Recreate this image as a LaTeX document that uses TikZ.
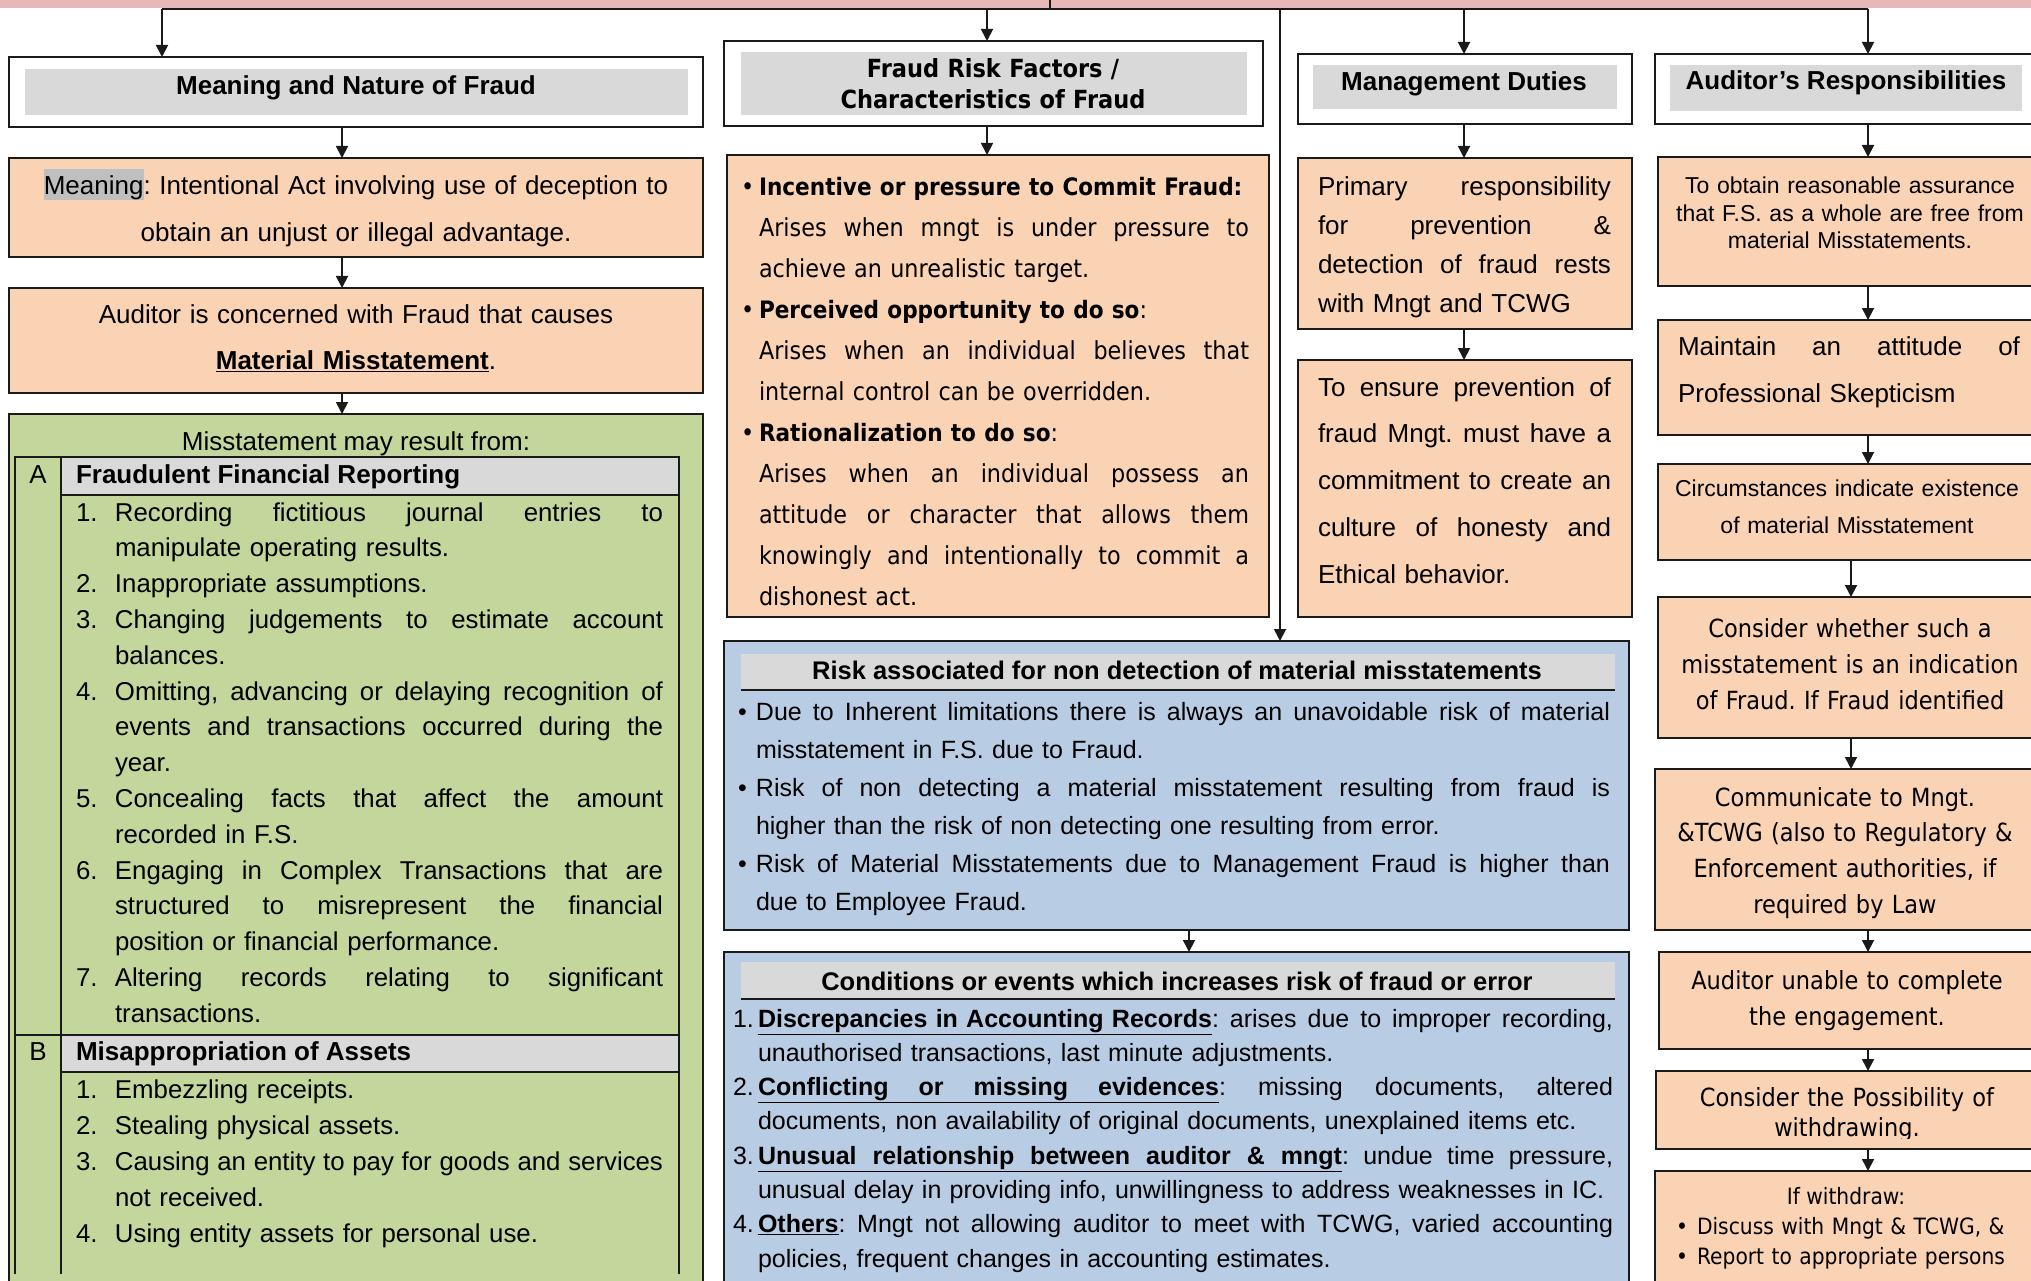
\documentclass[tikz,border=0pt]{standalone}
\usepackage{fontspec}
\setmainfont{Liberation Sans}
\newfontfamily\tah[FakeStretch=0.9]{DejaVu Sans}
\usetikzlibrary{arrows.meta}
\definecolor{pinkb}{HTML}{E6B8B7}
\definecolor{org}{HTML}{FAD3B4}
\definecolor{grn}{HTML}{C3D69B}
\definecolor{blu}{HTML}{B8CCE4}
\definecolor{gry}{HTML}{D9D9D9}
\definecolor{hlg}{HTML}{BFBFBF}
\definecolor{ink}{HTML}{1A1A1A}
\newlength\hind
\newcommand\Nm[1]{\makebox[\hind][l]{#1}}
\newcommand\Jf[1]{{\spaceskip=0pt\xspaceskip=0pt\makebox[\dimexpr\linewidth-\hind\relax][s]{#1}}}
\newcommand\Jl[1]{{\spaceskip=0pt\xspaceskip=0pt\makebox[\linewidth][s]{#1}}}
\newcommand\Jw[2]{{\spaceskip=0pt\xspaceskip=0pt\makebox[#1][s]{#2}}}
\newcommand\UL[2]{\underline{\Jw{#1}{\textbf{#2}}}}
\newcommand\hlt[1]{{\setlength\fboxsep{0pt}\colorbox{hlg}{\rule{0pt}{26pt}#1}}}
\newcommand\Bh[1]{{\fontsize{24}{41}\selectfont\textbf{#1}}}
\frenchspacing
\tikzset{
  box/.style={draw=ink, line width=2pt, anchor=north west, inner sep=0pt, outer sep=0pt},
  hdr/.style={fill=gry, draw=none, anchor=north west, inner sep=0pt, outer sep=0pt},
  arr/.style={draw=ink, line width=1.8pt, -{Triangle[length=12pt,width=12pt]}},
  ln/.style={draw=ink, line width=2pt},
  tx/.style={inner sep=0pt, outer sep=0pt, text=black},
  lft/.style={tx, anchor=base west, align=left},
  ctr/.style={tx, anchor=base, align=center},
  fA/.style={font=\fontsize{26}{47}\selectfont},
  fB/.style={font=\bfseries\fontsize{26}{30}\selectfont},
}
\begin{document}
\frenchspacing
\begin{tikzpicture}[x=1pt,y=-1pt]
\useasboundingbox (0,0) rectangle (2031,1281);
\clip (0,0) rectangle (2031,1281);
% ---------- top band and distribution line
\node[fill=pinkb, anchor=north west, minimum width=2031pt, minimum height=8pt, inner sep=0pt, outer sep=0pt] (band) at (0,0) {};
\coordinate (hl0) at (162,9);
\coordinate (c2) at (987,9);
\coordinate (stem) at (1050,9);
\coordinate (c5) at (1280,9);
\coordinate (c3) at (1464,9);
\coordinate (hr0) at (1868,9);
\coordinate (x1) at (342,0);
\coordinate (xb) at (1189,0);
\coordinate (x4b) at (1851,0);

% ---------- column 1
\node[box, fill=white, minimum width=694pt, minimum height=70pt] (b1) at (9,57) {};
\node[hdr, minimum width=663pt, minimum height=46pt] (g1) at (25,69) {};
\node[ctr, fB] (t1) at (356,95) {Meaning and Nature of Fraud};

\node[box, fill=org, minimum width=694pt, minimum height=99pt] (b2) at (9,158) {};
\node[ctr, fA, text width=680pt] (t2) at (356,195) {\hlt{Meaning}: Intentional Act involving use of deception to\\ obtain an unjust or illegal advantage.};

\node[box, fill=org, minimum width=694pt, minimum height=105pt] (b3) at (9,288) {};
\node[ctr, fA, text width=680pt] (t3) at (356,323) {Auditor is concerned with Fraud that causes\\ \underline{\textbf{Material Misstatement}}.};

\node[box, fill=grn, minimum width=694pt, minimum height=890pt] (b4) at (9,414) {};
\node[ctr, font=\fontsize{26}{30}\selectfont] (t4) at (356,450) {Misstatement may result from:};
\fill[gry] (61,457) rectangle (679,495);
\fill[gry] (61,1035) rectangle (679,1072);
\draw[ln] (15,1274) -- (15,457) -- (679,457) -- (679,1274);
\draw[ln] (61,457) -- (61,1274);
\draw[ln] (61,495) -- (679,495);
\draw[ln] (15,1035) -- (679,1035);
\draw[ln] (61,1072) -- (679,1072);
\node[ctr, font=\fontsize{26}{30}\selectfont] (tA) at (38,483) {A};
\node[lft, fB] (hA) at (76,483) {Fraudulent Financial Reporting};
\node[lft, text width=587pt, font=\fontsize{25.8}{35.8}\selectfont] (lA) at (76,521) {\setlength\hind{39pt}%
\Nm{1.}\Jf{Recording fictitious journal entries to}\\
\Nm{}manipulate operating results.\\
\Nm{2.}Inappropriate assumptions.\\
\Nm{3.}\Jf{Changing judgements to estimate account}\\
\Nm{}balances.\\
\Nm{4.}\Jf{Omitting, advancing or delaying recognition of}\\
\Nm{}\Jf{events and transactions occurred during the}\\
\Nm{}year.\\
\Nm{5.}\Jf{Concealing facts that affect the amount}\\
\Nm{}recorded in F.S.\\
\Nm{6.}\Jf{Engaging in Complex Transactions that are}\\
\Nm{}\Jf{structured to misrepresent the financial}\\
\Nm{}position or financial performance.\\
\Nm{7.}\Jf{Altering records relating to significant}\\
\Nm{}transactions.};
\node[ctr, font=\fontsize{26}{30}\selectfont] (tB) at (38,1060) {B};
\node[lft, fB] (hB) at (76,1060) {Misappropriation of Assets};
\node[lft, text width=587pt, font=\fontsize{25.8}{36}\selectfont] (lB) at (76,1098) {\setlength\hind{39pt}%
\Nm{1.}Embezzling receipts.\\
\Nm{2.}Stealing physical assets.\\
\Nm{3.}\Jf{Causing an entity to pay for goods and services}\\
\Nm{}not received.\\
\Nm{4.}Using entity assets for personal use.};

% ---------- column 2
\node[box, fill=white, minimum width=539pt, minimum height=85pt] (b5) at (724,41) {};
\node[hdr, minimum width=506pt, minimum height=63pt] (g5) at (741,52) {};
\node[ctr, text width=500pt, font=\tah\bfseries\fontsize{25}{31}\selectfont] (t5) at (993,78) {Fraud Risk Factors /\\ Characteristics of Fraud};

\node[box, fill=org, minimum width=542pt, minimum height=462pt] (b6) at (727,155) {};
\node[lft, text width=508pt, font=\tah\fontsize{24.8}{41}\selectfont] (t6) at (741,196) {\setlength\hind{18pt}%
\Nm{•}\Bh{Incentive or pressure to Commit Fraud:}\\
\Nm{}\Jf{Arises when mngt is under pressure to}\\
\Nm{}achieve an unrealistic target.\\
\Nm{•}\Bh{Perceived opportunity to do so}:\\
\Nm{}\Jf{Arises when an individual believes that}\\
\Nm{}internal control can be overridden.\\
\Nm{•}\Bh{Rationalization to do so}:\\
\Nm{}\Jf{Arises when an individual possess an}\\
\Nm{}\Jf{attitude or character that allows them}\\
\Nm{}\Jf{knowingly and intentionally to commit a}\\
\Nm{}dishonest act.};

\node[box, fill=blu, minimum width=905pt, minimum height=289pt] (b7) at (724,641) {};
\node[hdr, minimum width=874pt, minimum height=36pt] (g7) at (741,654) {};
\draw[ln] (g7.south west) -- (g7.south east);
\node[ctr, font=\bfseries\fontsize{25.5}{30}\selectfont] (t7h) at (1177,679) {Risk associated for non detection of material misstatements};
\node[lft, text width=872pt, font=\fontsize{25}{38}\selectfont] (t7) at (738,720) {\setlength\hind{18pt}%
\Nm{•}\Jf{Due to Inherent limitations there is always an unavoidable risk of material}\\
\Nm{}misstatement in F.S. due to Fraud.\\
\Nm{•}\Jf{Risk of non detecting a material misstatement resulting from fraud is}\\
\Nm{}higher than the risk of non detecting one resulting from error.\\
\Nm{•}\Jf{Risk of Material Misstatements due to Management Fraud is higher than}\\
\Nm{}due to Employee Fraud.};

\node[box, fill=blu, minimum width=905pt, minimum height=340pt] (b8) at (724,952) {};
\node[hdr, minimum width=874pt, minimum height=37pt] (g8) at (741,962) {};
\draw[ln] (g8.south west) -- (g8.south east);
\node[ctr, font=\bfseries\fontsize{25.5}{30}\selectfont] (t8h) at (1177,990) {Conditions or events which increases risk of fraud or error};
\node[lft, text width=880pt, font=\fontsize{25}{34.3}\selectfont] (t8) at (733,1027) {\setlength\hind{25pt}%
\Nm{1.}\Jf{\UL{454pt}{Discrepancies in Accounting Records}: arises due to improper recording,}\\
\Nm{}unauthorised transactions, last minute adjustments.\\
\Nm{2.}\UL{461pt}{Conflicting or missing evidences}\Jw{\dimexpr\linewidth-\hind-461pt\relax}{: missing documents, altered}\\
\Nm{}documents, non availability of original documents, unexplained items etc.\\
\Nm{3.}\Jf{\UL{584pt}{Unusual relationship between auditor \& mngt}: undue time pressure,}\\
\Nm{}unusual delay in providing info, unwillingness to address weaknesses in IC.\\
\Nm{4.}\Jf{\underline{\textbf{Others}}: Mngt not allowing auditor to meet with TCWG, varied accounting}\\
\Nm{}policies, frequent changes in accounting estimates.};

% ---------- column 3
\node[box, fill=white, minimum width=334pt, minimum height=70pt] (b9) at (1298,54) {};
\node[hdr, minimum width=304pt, minimum height=44pt] (g9) at (1313,65) {};
\node[ctr, fB] (t9) at (1464,91) {Management Duties};

\node[box, fill=org, minimum width=334pt, minimum height=171pt] (b10) at (1298,158) {};
\node[lft, text width=293pt, font=\fontsize{26}{38.7}\selectfont] (t10) at (1318,196) {%
\Jl{Primary responsibility}\\
\Jl{for prevention \&}\\
\Jl{detection of fraud rests}\\
with Mngt and TCWG};

\node[box, fill=org, minimum width=334pt, minimum height=257pt] (b11) at (1298,360) {};
\node[lft, text width=293pt, font=\fontsize{26}{46.8}\selectfont] (t11) at (1318,396) {%
\Jl{To ensure prevention of}\\
\Jl{fraud Mngt. must have a}\\
\Jl{commitment to create an}\\
\Jl{culture of honesty and}\\
Ethical behavior.};

% ---------- column 4
\node[box, fill=white, minimum width=400pt, minimum height=70pt] (b12) at (1655,54) {};
\node[hdr, minimum width=352pt, minimum height=46pt] (g12) at (1670,65) {};
\node[ctr, fB] (t12) at (1846,90) {Auditor’s Responsibilities};

\node[box, fill=org, minimum width=400pt, minimum height=129pt] (b13) at (1658,157) {};
\node[ctr, text width=370pt, font=\fontsize{23}{27.5}\selectfont] (t13) at (1850,194) {To obtain reasonable assurance\\ that F.S. as a whole are free from\\ material Misstatements.};

\node[box, fill=org, minimum width=400pt, minimum height=115pt] (b14) at (1658,320) {};
\node[lft, text width=342pt, font=\fontsize{26}{47}\selectfont] (t14) at (1678,355) {\Jl{Maintain an attitude of}\\ Professional Skepticism};

\node[box, fill=org, minimum width=400pt, minimum height=96pt] (b15) at (1658,464) {};
\node[ctr, text width=370pt, font=\fontsize{23}{37}\selectfont] (t15) at (1847,496) {Circumstances indicate existence\\ of material Misstatement};

\node[box, fill=org, minimum width=400pt, minimum height=141pt] (b16) at (1658,597) {};
\node[ctr, text width=370pt, font=\tah\fontsize{25}{36}\selectfont] (t16) at (1850,637) {Consider whether such a\\ misstatement is an indication\\ of Fraud. If Fraud identified};

\node[box, fill=org, minimum width=400pt, minimum height=161pt] (b17) at (1655,769) {};
\node[ctr, text width=370pt, font=\tah\fontsize{25}{35.7}\selectfont] (t17) at (1845,806) {Communicate to Mngt.\\ \&TCWG (also to Regulatory \&\\ Enforcement authorities, if\\ required by Law};

\node[box, fill=org, minimum width=400pt, minimum height=97pt] (b18) at (1659,952) {};
\node[ctr, text width=370pt, font=\tah\fontsize{25}{36}\selectfont] (t18) at (1847,989) {Auditor unable to complete\\ the engagement.};

\node[box, fill=org, minimum width=400pt, minimum height=78pt] (b19) at (1656,1071) {};
\begin{scope}
\clip (1656,1071) rectangle (2040,1138);
\node[ctr, text width=370pt, font=\tah\fontsize{25}{30}\selectfont] (t19) at (1847,1106) {Consider the Possibility of\\ withdrawing.};
\end{scope}

\node[box, fill=org, minimum width=400pt, minimum height=130pt] (b20) at (1655,1171) {};
\node[ctr, font=\tah\fontsize{22.5}{29}\selectfont] (t20a) at (1846,1204) {If withdraw:};
\node[lft, text width=355pt, font=\tah\fontsize{22.5}{30}\selectfont] (t20b) at (1676,1234) {\setlength\hind{21pt}%
\Nm{•}Discuss with Mngt \& TCWG, \&\\
\Nm{•}Report to appropriate persons};

% ---------- connectors
\draw[ln, line width=1.8pt] (band.north -| stem) -- (stem);
\draw[ln, line width=1.8pt] (hl0) -- (hr0);
\draw[arr] (hl0) -- (b1.north -| hl0);
\draw[arr] (c2) -- (b5.north -| c2);
\draw[arr] (c5) -- (b7.north -| c5);
\draw[arr] (c3) -- (b9.north -| c3);
\draw[arr] (hr0) -- (b12.north -| hr0);

\draw[arr] (b1.south -| x1) -- (b2.north -| x1);
\draw[arr] (b2.south -| x1) -- (b3.north -| x1);
\draw[arr] (b3.south -| x1) -- (b4.north -| x1);

\draw[arr] (b5.south -| c2) -- (b6.north -| c2);
\draw[arr] (b7.south -| xb) -- (b8.north -| xb);

\draw[arr] (b9.south -| c3) -- (b10.north -| c3);
\draw[arr] (b10.south -| c3) -- (b11.north -| c3);

\draw[arr] (b12.south -| hr0) -- (b13.north -| hr0);
\draw[arr] (b13.south -| hr0) -- (b14.north -| hr0);
\draw[arr] (b14.south -| hr0) -- (b15.north -| hr0);
\draw[arr] (b15.south -| x4b) -- (b16.north -| x4b);
\draw[arr] (b16.south -| x4b) -- (b17.north -| x4b);
\draw[arr] (b17.south -| hr0) -- (b18.north -| hr0);
\draw[arr] (b18.south -| hr0) -- (b19.north -| hr0);
\draw[arr] (b19.south -| hr0) -- (b20.north -| hr0);
\end{tikzpicture}
\end{document}
